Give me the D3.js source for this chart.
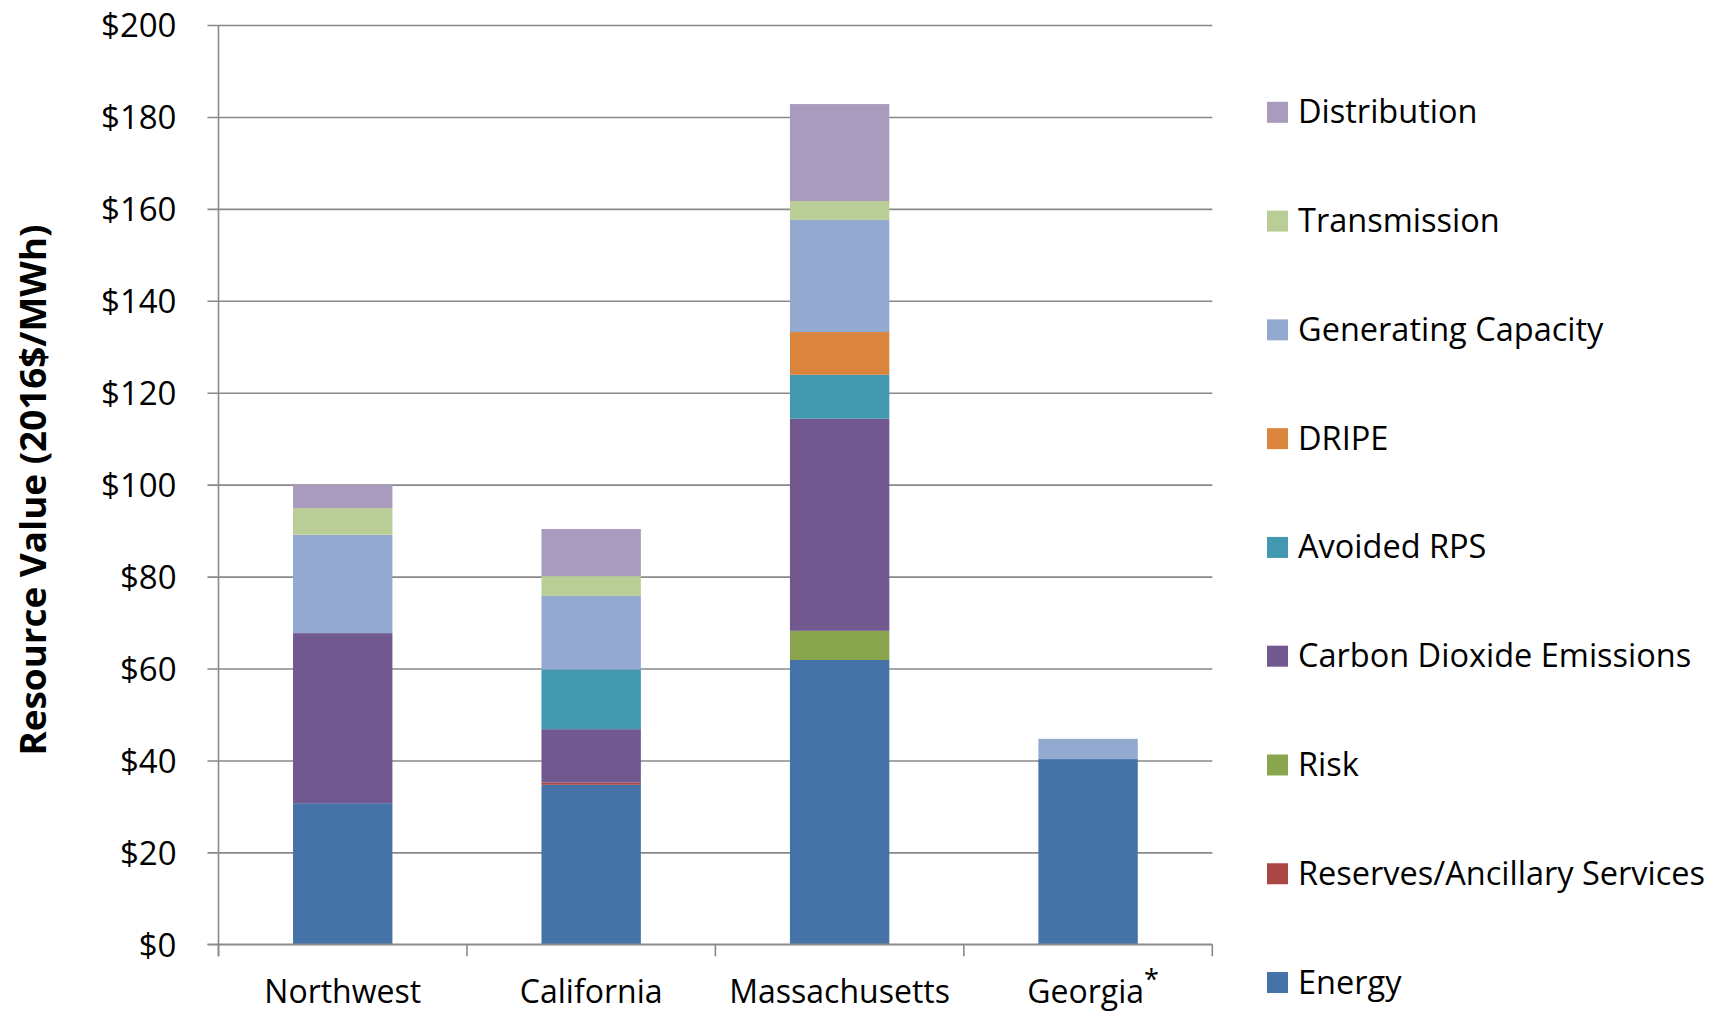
<!DOCTYPE html>
<html>
<head>
<meta charset="utf-8">
<script src="https://cdn.jsdelivr.net/npm/d3@7"></script>
<style>
  html, body { margin: 0; padding: 0; background: #fff; }
  svg { display: block; }
  text { font-family: "Open Sans", "DejaVu Sans", sans-serif; fill: #000; }
</style>
</head>
<body>
<svg id="chart" width="1722" height="1012"></svg>
<script>
// ---- data ----
const categories = ["Northwest", "California", "Massachusetts", "Georgia"];
const seriesNames = ["Energy", "Reserves/Ancillary Services", "Risk", "Carbon Dioxide Emissions",
                     "Avoided RPS", "DRIPE", "Generating Capacity", "Transmission", "Distribution"];
const seriesColors = ["#4572A7", "#AA4643", "#89A54E", "#71588F", "#4198AF", "#DB843D", "#93A9CF", "#B9CD96", "#A99BBD"];
// values per category, in category order
const energy       = [30.7, 34.7, 61.85, 40.3];
const reserves     = [0,    0.5,  0,     0];
const risk         = [0,    0,    6.35,  0];
const co2          = [37.0, 11.6, 46.15, 0];
const avoidedRPS   = [0,    13.0, 9.55,  0];
const dripe        = [0,    0,    9.3,   0];
const genCapacity  = [21.4, 16.0, 24.4,  4.4];
const transmission = [5.8,  4.3,  4.1,   0];
const distribution = [5.1,  10.25, 21.1, 0];
const yTicks = [0, 20, 40, 60, 80, 100, 120, 140, 160, 180, 200];
const yTitle = "Resource Value (2016$/MWh)";

const seriesValues = [energy, reserves, risk, co2, avoidedRPS, dripe, genCapacity, transmission, distribution];
const table = categories.map((c, i) => {
  const row = { category: c };
  seriesNames.forEach((s, j) => row[s] = seriesValues[j][i]);
  return row;
});

// ---- layout ----
const svg = d3.select("#chart");
const plot = { left: 218.5, right: 1212.3, top: 25, bottom: 944.3 };
const gridColor = "#898989";

const x = d3.scaleBand().domain(categories).range([plot.left, plot.right]).padding(0);
const y = d3.scaleLinear().domain([0, 200]).range([plot.bottom, plot.top]);
const color = d3.scaleOrdinal().domain(seriesNames).range(seriesColors);

// gridlines + y ticks
const yAxis = d3.axisLeft(y).tickValues(yTicks).tickFormat(d => "$" + d)
  .tickSize(-(plot.right - plot.left)).tickSizeOuter(0).tickPadding(0);
const gy = svg.append("g").attr("transform", `translate(${plot.left},0)`).call(yAxis);
gy.select(".domain").remove();
gy.selectAll(".tick line")
  .attr("x1", -11).attr("x2", plot.right - plot.left)
  .attr("stroke", gridColor).attr("stroke-width", 1.6);
gy.selectAll(".tick text")
  .attr("x", -42).attr("dy", "0.36em")
  .attr("text-anchor", "end")
  .style("font-size", "33px").style("font-family", "'Open Sans', sans-serif").attr("fill", "#000");

// stacked bars
const stack = d3.stack().keys(seriesNames);
const layers = stack(table);
const barW = x.bandwidth() * 0.4;
svg.append("g").selectAll("g").data(layers).join("g")
  .attr("fill", d => color(d.key))
  .selectAll("rect").data(d => d.filter(p => p[1] - p[0] > 0)).join("rect")
  .attr("x", d => x(d.data.category) + x.bandwidth() / 2 - barW / 2)
  .attr("width", barW)
  .attr("y", d => y(d[1]))
  .attr("height", d => y(d[0]) - y(d[1]));

// y axis line
svg.append("line")
  .attr("x1", plot.left).attr("x2", plot.left)
  .attr("y1", plot.top).attr("y2", plot.bottom + 12)
  .attr("stroke", gridColor).attr("stroke-width", 1.6);

// x axis line + category separator ticks
svg.append("line")
  .attr("x1", plot.left - 11).attr("x2", plot.right)
  .attr("y1", plot.bottom).attr("y2", plot.bottom)
  .attr("stroke", gridColor).attr("stroke-width", 1.6);
const sepPositions = categories.map(c => x(c)).concat([x(categories[categories.length - 1]) + x.bandwidth()]);
svg.append("g").selectAll("line").data(sepPositions).join("line")
  .attr("x1", d => d).attr("x2", d => d)
  .attr("y1", plot.bottom).attr("y2", plot.bottom + 12)
  .attr("stroke", gridColor).attr("stroke-width", 1.6);

// x labels
const xl = svg.append("g").selectAll("text").data(categories).join("text")
  .attr("x", d => x(d) + x.bandwidth() / 2 + (d === "Georgia" ? 5 : 0))
  .attr("y", 1002.5)
  .attr("text-anchor", "middle")
  .style("font-size", "32px");
xl.append("tspan").text(d => d);
xl.filter(d => d === "Georgia").append("tspan")
  .attr("dy", -14).style("font-size", "27px").text("*");

// y title
svg.append("text")
  .attr("transform", `translate(46,490) rotate(-90)`)
  .attr("text-anchor", "middle")
  .attr("textLength", 531).attr("lengthAdjust", "spacingAndGlyphs")
  .style("font-size", "36px").style("font-weight", "bold")
  .text(yTitle);

// legend (top = last series)
const legendItems = seriesNames.slice().reverse();
const lg = svg.append("g").selectAll("g").data(legendItems).join("g")
  .attr("transform", (d, i) => `translate(1267,${112.3 + i * 108.78})`);
lg.append("rect").attr("x", 0).attr("y", -10.5).attr("width", 21).attr("height", 21)
  .attr("fill", d => color(d));
lg.append("text").attr("x", 31).attr("y", 11).style("font-size", "32.5px").text(d => d);
</script>
</body>
</html>
